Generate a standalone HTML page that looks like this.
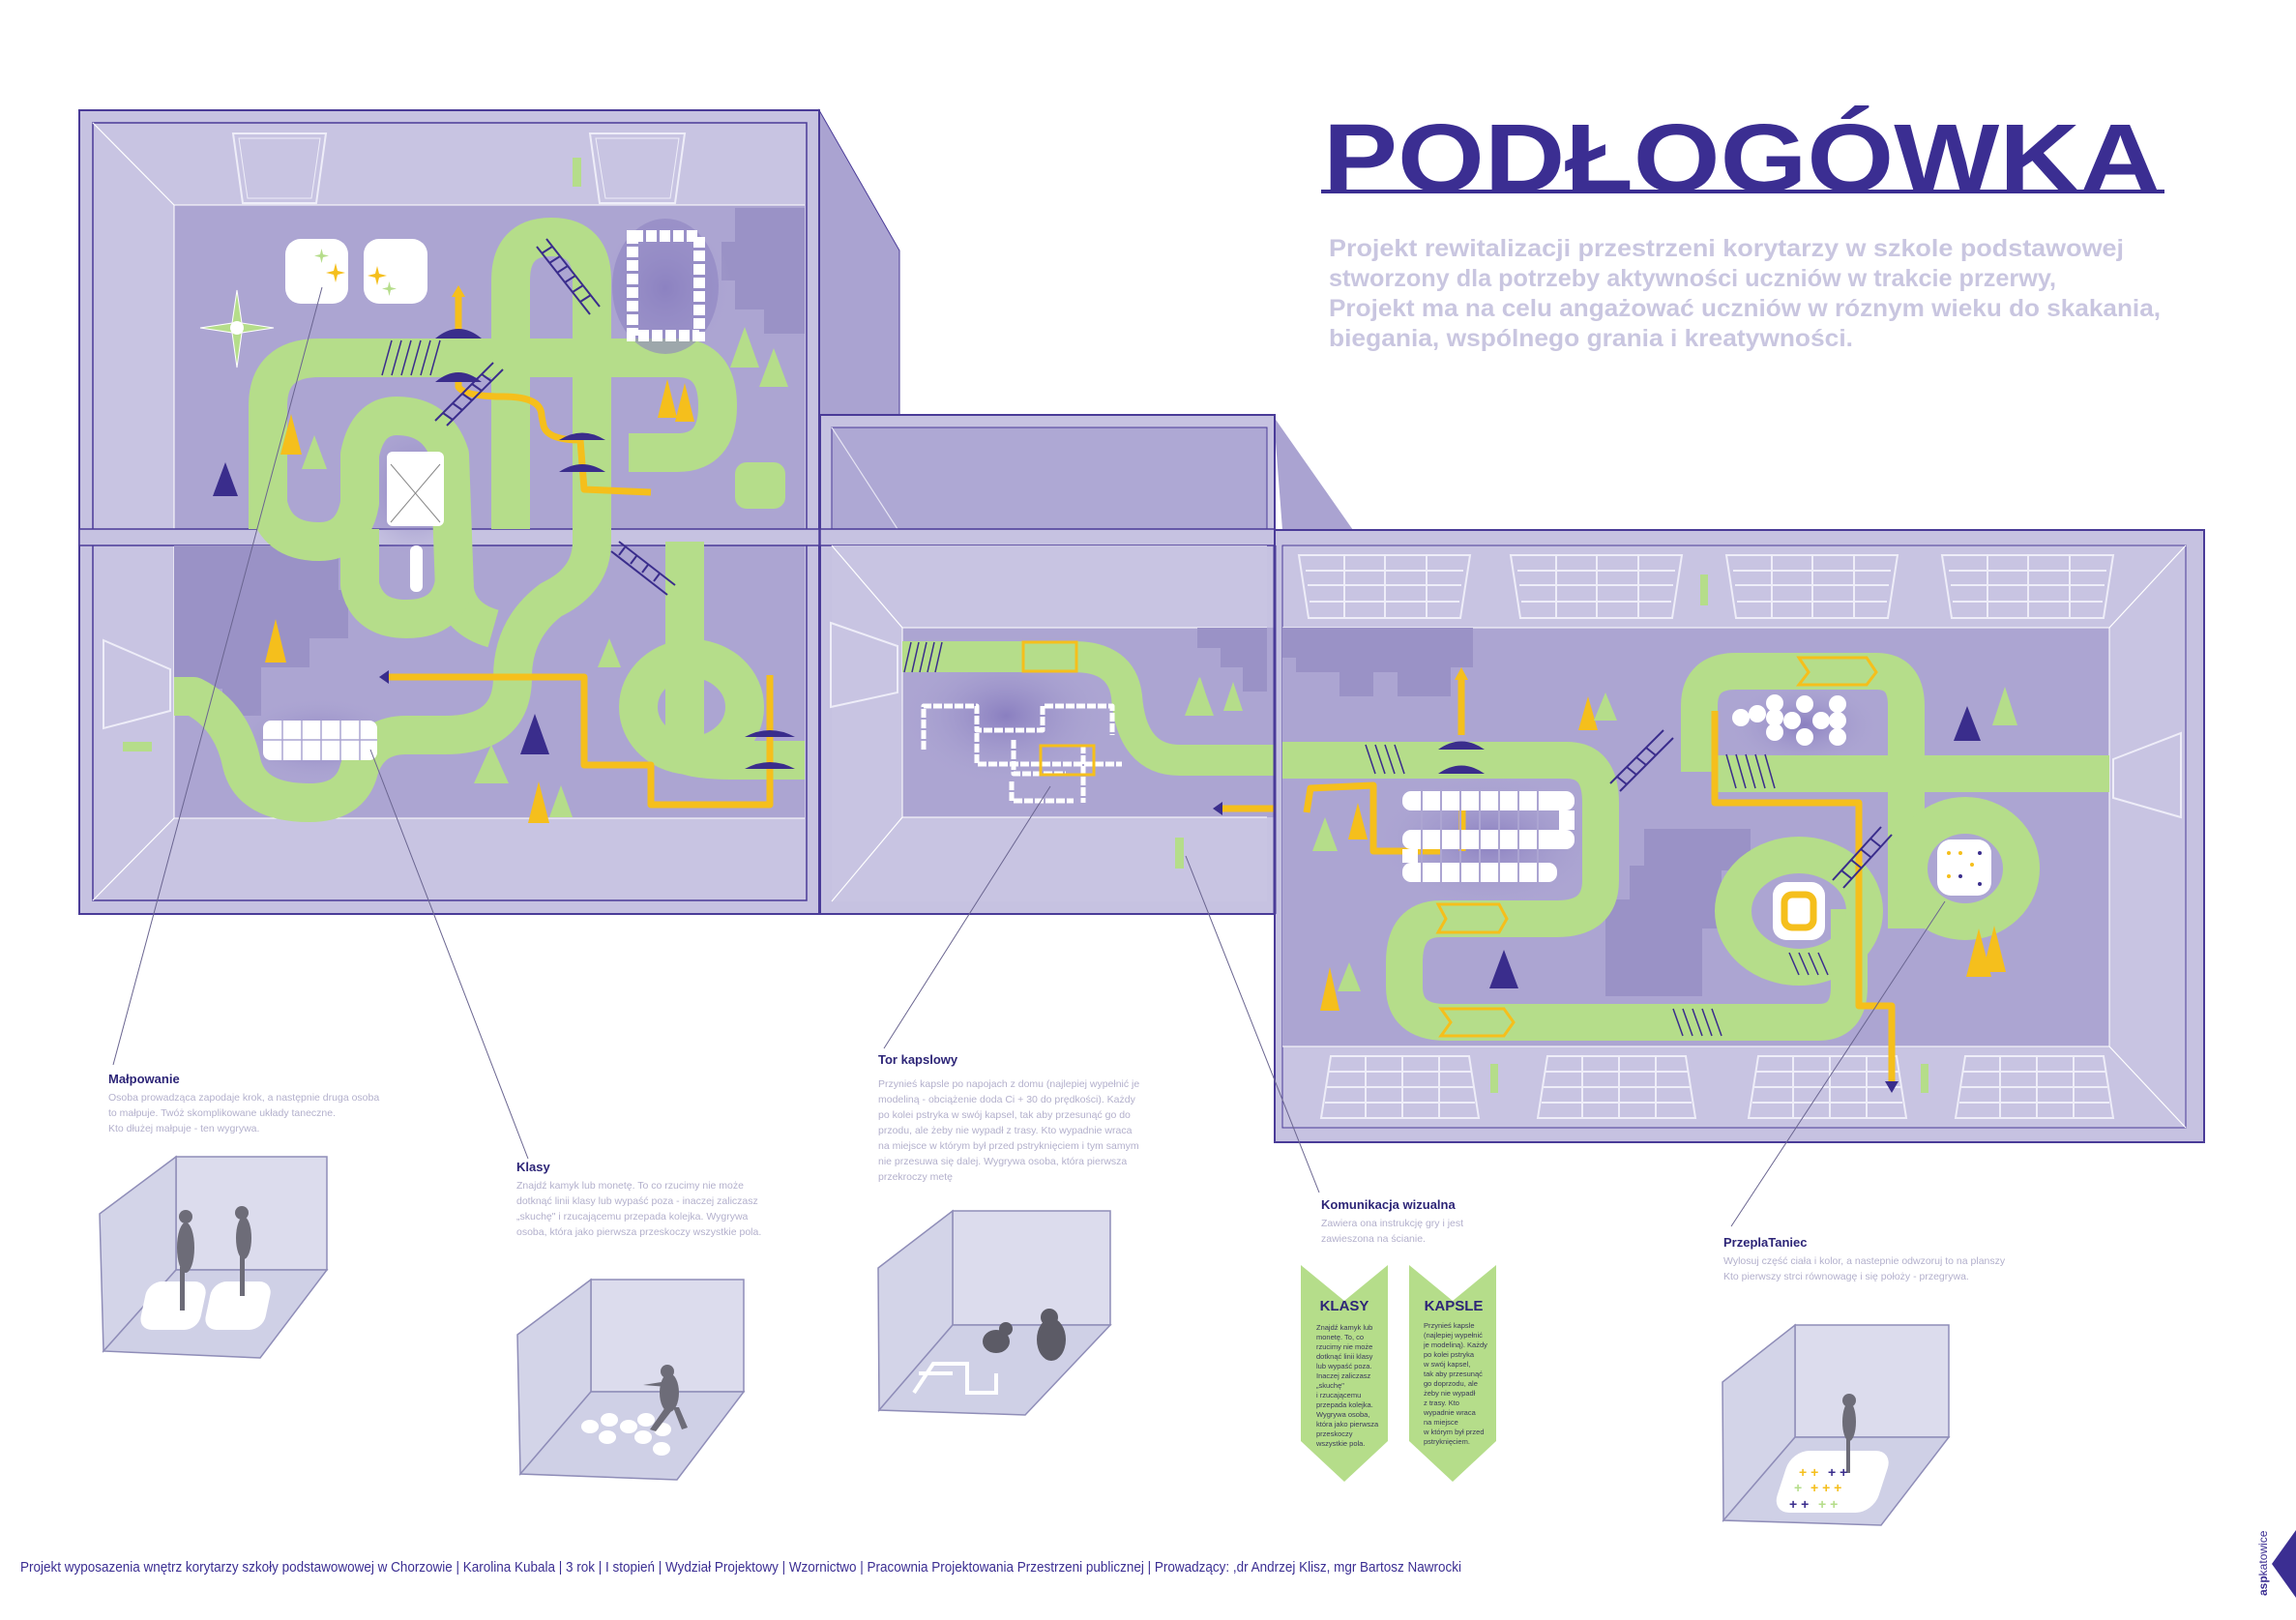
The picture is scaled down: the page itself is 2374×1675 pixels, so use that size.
<!DOCTYPE html>
<html><head><meta charset="utf-8"><style>
html,body{margin:0;padding:0;background:#fff;}
svg{display:block;font-family:"Liberation Sans",sans-serif;}
</style></head><body>
<svg width="2374" height="1675" viewBox="0 0 2374 1675" xmlns="http://www.w3.org/2000/svg">
<defs>
<radialGradient id="glow" cx="50%" cy="50%" r="50%"><stop offset="0" stop-color="#8a7fc0"/><stop offset="1" stop-color="#aca5d2" stop-opacity="0"/></radialGradient>
</defs>

<!-- ============ LEFT BUILDING ============ -->
<polygon points="847,114 930,259 930,430 847,430" fill="#aaa3d1" stroke="#4a3b98" stroke-width="1"/>
<rect x="82" y="114" width="765" height="831" fill="#c6c2e1" stroke="#4a3b98" stroke-width="2"/>
<rect x="96" y="127" width="738" height="804" fill="#c8c4e2" stroke="#4a3b98" stroke-width="1.5"/>
<rect x="180" y="212" width="652" height="335" fill="#aca5d2"/>
<rect x="180" y="564" width="652" height="282" fill="#aca5d2"/>
<line x1="96" y1="127" x2="180" y2="212" stroke="#fff" stroke-width="1.2"/>
<line x1="96" y1="931" x2="180" y2="846" stroke="#fff" stroke-width="1.2"/>
<line x1="180" y1="212" x2="832" y2="212" stroke="#fff" stroke-width="1"/>
<line x1="180" y1="212" x2="180" y2="547" stroke="#fff" stroke-width="1"/>
<line x1="180" y1="564" x2="180" y2="846" stroke="#fff" stroke-width="1"/>
<line x1="180" y1="846" x2="832" y2="846" stroke="#fff" stroke-width="1"/>
<rect x="82" y="547" width="765" height="17" fill="#c6c2e1" stroke="#4a3b98" stroke-width="1.5"/>
<path d="M760,215 L832,215 L832,345 L790,345 L790,320 L760,320 L760,290 L746,290 L746,250 L760,250 Z" fill="#9a92c6"/>
<path d="M180,564 L350,564 L350,610 L360,610 L360,660 L320,660 L320,690 L270,690 L270,740 L230,740 L230,712 L180,712 Z" fill="#9a92c6"/>
<polygon points="241,138 337,138 327,210 251,210" fill="none" stroke="#eeedf8" stroke-width="2"/>
<polygon points="247,143 331,143 322,205 256,205" fill="none" stroke="#eeedf8" stroke-width="1"/>
<polygon points="610,138 708,138 698,210 620,210" fill="none" stroke="#eeedf8" stroke-width="2"/>
<polygon points="616,143 702,143 693,205 626,205" fill="none" stroke="#eeedf8" stroke-width="1"/>
<polygon points="107,662 176,692 176,735 107,753" fill="none" stroke="#eeedf8" stroke-width="2"/>
<rect x="592" y="163" width="9" height="30" fill="#b5dd8a"/>
<rect x="127" y="767" width="30" height="10" fill="#b5dd8a"/>

<ellipse cx="688" cy="298" rx="70" ry="75" fill="url(#glow)"/>
<ellipse cx="430" cy="505" rx="65" ry="75" fill="url(#glow)"/>
<ellipse cx="330" cy="765" rx="90" ry="45" fill="url(#glow)"/>

<g fill="none" stroke="#b5dd8a" stroke-width="40" stroke-linecap="butt" stroke-linejoin="round">
<path d="M277,547 L277,420 Q277,370 330,370 L700,370 Q742,370 742,420 Q742,468 700,468 L650,468"/>
<path d="M528,547 L528,290 Q528,245 570,245 Q612,245 612,290 L612,560 Q612,600 570,620 Q530,650 530,700 Q530,760 460,760 L420,760 Q380,760 370,800 Q360,830 320,830 Q260,830 250,790 Q240,740 200,720 L180,720"/>
<path d="M277,520 Q285,560 330,560 Q365,560 372,520 L372,470 Q380,430 410,430 Q452,430 465,470 L470,610 Q475,640 510,650"/>
<path d="M372,547 L372,605 Q380,640 420,640 Q465,640 470,600"/>
<ellipse cx="715" cy="731" rx="55" ry="50"/>
<path d="M708,560 L708,780 Q720,786 760,786 L832,786"/>
</g>
<g fill="none" stroke="#f5bf1c" stroke-width="7" stroke-linejoin="round">
<path d="M474,303 L474,345"/>
<path d="M474,385 L474,400 Q480,410 520,410 Q560,410 560,430 L562,440 Q566,455 600,455 L604,506 L673,509"/>
<path d="M398,700 L604,700 L604,791 L673,791 L673,832 L796,832 L796,698"/>
</g>
<polygon points="474,295 467,307 481,307" fill="#f5bf1c"/>
<polygon points="392,700 402,693 402,707" fill="#3a2d8c"/>
<g stroke="#3a2d8c" stroke-width="1.5">
<path d="M395,388 L405,352 M405,388 L415,352 M415,388 L425,352 M425,388 L435,352 M435,388 L445,352 M445,388 L455,352"/>
</g>
<path d="M450,350 Q474,330 498,350 Z" fill="#3a2d8c"/>
<path d="M450,395 Q474,375 498,395 Z" fill="#3a2d8c"/>
<path d="M578,455 Q602,440 626,455 Z" fill="#3a2d8c"/>
<path d="M578,488 Q602,472 626,488 Z" fill="#3a2d8c"/>
<path d="M770,762 Q796,748 822,762 Z" fill="#3a2d8c"/>
<path d="M770,795 Q796,781 822,795 Z" fill="#3a2d8c"/>
<g stroke="#3a2d8c" stroke-width="2" fill="none">
<path d="M555,255 L610,325 M565,247 L620,317 M560,262 L571,255 M568,272 L579,265 M576,282 L587,275 M584,292 L595,285 M592,302 L603,295 M600,312 L611,305"/>
<path d="M450,435 L510,375 M462,440 L520,382 M458,427 L468,434 M468,417 L478,424 M478,407 L488,414 M488,397 L498,404 M498,387 L508,394"/>
<path d="M632,570 L690,615 M640,560 L698,605 M640,574 L646,566 M652,583 L658,575 M664,592 L670,584 M676,601 L682,593"/>
</g>
<rect x="295" y="247" width="65" height="67" rx="16" fill="#fff"/>
<rect x="376" y="247" width="66" height="67" rx="16" fill="#fff"/>
<g fill="#f5bf1c"><path d="M345,280 l2,-8 2,8 8,2 -8,2 -2,8 -2,-8 -8,-2z"/><path d="M388,283 l2,-8 2,8 8,2 -8,2 -2,8 -2,-8 -8,-2z"/></g>
<g fill="#b5dd8a"><path d="M331,263 l1.5,-6 1.5,6 6,1.5 -6,1.5 -1.5,6 -1.5,-6 -6,-1.5z"/><path d="M401,297 l1.5,-6 1.5,6 6,1.5 -6,1.5 -1.5,6 -1.5,-6 -6,-1.5z"/></g>
<ellipse cx="688" cy="296" rx="55" ry="70" fill="#8d83c2" opacity="0.6"/>
<rect x="654" y="244" width="69" height="103" fill="none" stroke="#fff" stroke-width="12" stroke-dasharray="11,3"/>
<rect x="400" y="467" width="59" height="77" rx="6" fill="#fff"/>
<path d="M404,480 L455,540 M455,480 L404,540" stroke="#888" stroke-width="1"/>
<rect x="424" y="564" width="13" height="48" rx="6" fill="#fff"/>
<rect x="272" y="745" width="118" height="41" rx="8" fill="#fff"/>
<g stroke="#aca5d2" stroke-width="1.5"><path d="M292,745 V786 M312,745 V786 M332,745 V786 M352,745 V786 M372,745 V786 M272,765 H390"/></g>
<rect x="760" y="478" width="52" height="48" rx="12" fill="#b5dd8a"/>
<path d="M245,300 L250,334 L283,339 L250,344 L245,380 L240,344 L207,339 L240,334 Z" fill="#b5dd8a" stroke="#fff" stroke-width="1"/>
<circle cx="245" cy="339" r="7" fill="#fff"/>
<g fill="#f5bf1c"><polygon points="690,392 680,432 700,432"/><polygon points="708,396 698,436 718,436"/><polygon points="301,428 290,470 312,470"/><polygon points="285,640 274,685 296,685"/><polygon points="557,808 546,851 568,851"/></g>
<g fill="#b5dd8a"><polygon points="770,338 755,380 785,380"/><polygon points="800,360 785,400 815,400"/><polygon points="325,450 312,485 338,485"/><polygon points="630,660 618,690 642,690"/><polygon points="580,812 568,845 592,845"/><polygon points="508,770 490,810 526,810"/></g>
<g fill="#3a2d8c"><polygon points="233,478 220,513 246,513"/><polygon points="553,738 538,780 568,780"/></g>

<!-- ============ MIDDLE BUILDING ============ -->
<polygon points="1317,431 1399,548 1326,548" fill="#aaa3d1"/>
<rect x="848" y="429" width="470" height="516" fill="#c6c2e1" stroke="#4a3b98" stroke-width="2"/>
<rect x="860" y="442" width="450" height="105" fill="#aea8d4" stroke="#4a3b98" stroke-width="1"/>
<line x1="860" y1="442" x2="928" y2="547" stroke="#e6e4f3" stroke-width="1.2"/>
<rect x="848" y="547" width="470" height="17" fill="#c6c2e1" stroke="#4a3b98" stroke-width="1.5"/>
<rect x="860" y="564" width="450" height="368" fill="#c8c4e2"/>
<rect x="933" y="649" width="385" height="196" fill="#aca5d2"/>
<line x1="860" y1="564" x2="933" y2="649" stroke="#fff" stroke-width="1.2"/>
<line x1="860" y1="932" x2="933" y2="845" stroke="#fff" stroke-width="1.2"/>
<line x1="933" y1="649" x2="1310" y2="649" stroke="#fff"/>
<line x1="933" y1="845" x2="1310" y2="845" stroke="#fff"/>
<line x1="933" y1="649" x2="933" y2="845" stroke="#fff"/>
<polygon points="859,644 928,668 928,716 859,731" fill="none" stroke="#eeedf8" stroke-width="2"/>
<rect x="1215" y="866" width="9" height="32" fill="#b5dd8a"/>
<path d="M1238,649 L1310,649 L1310,715 L1285,715 L1285,690 L1262,690 L1262,670 L1238,670 Z" fill="#9a92c6"/>
<ellipse cx="1040" cy="740" rx="110" ry="75" fill="url(#glow)"/>
<g fill="none" stroke="#b5dd8a" stroke-width="32"><path d="M933,679 L1110,679 Q1160,679 1165,720 Q1170,786 1220,786 L1326,786"/></g>
<g stroke="#3a2d8c" stroke-width="1.5"><path d="M935,695 L942,664 M943,695 L950,664 M951,695 L958,664 M959,695 L966,664 M967,695 L974,664"/></g>
<g fill="none" stroke="#fff" stroke-width="5" stroke-dasharray="9,2" stroke-linejoin="round"><path d="M955,775 L955,730 L1010,730 L1010,755 L1078,755 L1078,730 L1150,730 L1150,760 M1010,758 L1010,790 L1160,790 M1048,765 L1048,800 L1102,800 M1046,808 L1046,828 L1110,828 M1120,770 L1120,830"/></g>
<rect x="1058" y="664" width="55" height="30" fill="none" stroke="#f5bf1c" stroke-width="3"/>
<rect x="1076" y="771" width="55" height="30" fill="none" stroke="#f5bf1c" stroke-width="3"/>
<g fill="#b5dd8a"><polygon points="1240,700 1225,740 1255,740"/><polygon points="1275,705 1265,735 1285,735"/></g>
<g fill="none" stroke="#f5bf1c" stroke-width="7"><path d="M1262,836 L1318,836"/></g>
<polygon points="1254,836 1264,829 1264,843" fill="#3a2d8c"/>

<!-- ============ RIGHT BUILDING ============ -->
<rect x="1318" y="548" width="961" height="633" fill="#c6c2e1" stroke="#4a3b98" stroke-width="2"/>
<rect x="1326" y="564" width="934" height="602" fill="#c8c4e2" stroke="#4a3b98" stroke-width="1"/>
<rect x="1326" y="649" width="855" height="433" fill="#aca5d2"/>
<line x1="2260" y1="564" x2="2181" y2="649" stroke="#fff" stroke-width="1.2"/>
<line x1="2260" y1="1166" x2="2181" y2="1082" stroke="#fff" stroke-width="1.2"/>
<line x1="1326" y1="649" x2="2181" y2="649" stroke="#fff"/>
<line x1="1326" y1="1082" x2="2181" y2="1082" stroke="#fff"/>
<line x1="2181" y1="649" x2="2181" y2="1082" stroke="#fff"/>
<line x1="1318" y1="564" x2="1318" y2="945" stroke="#4a3b98" stroke-width="3"/>
<polygon points="2185,785 2255,758 2255,845 2185,825" fill="none" stroke="#eeedf8" stroke-width="2"/>
<g fill="none" stroke="#eeedf8" stroke-width="2">
<g id="wt"><polygon points="1343,574 1520,574 1510,639 1353,639"/><path d="M1350,590 H1513 M1352,605 H1511 M1354,622 H1509 M1390,574 V639 M1432,574 V639 M1475,574 V639"/></g>
<use href="#wt" x="219"/><use href="#wt" x="442"/><use href="#wt" x="665"/>
<g id="wb"><polygon points="1376,1092 1519,1092 1529,1156 1366,1156"/><path d="M1374,1108 H1521 M1372,1124 H1523 M1370,1140 H1525 M1412,1092 V1156 M1450,1092 V1156 M1488,1092 V1156"/></g>
<use href="#wb" x="224"/><use href="#wb" x="442"/><use href="#wb" x="656"/>
</g>
<rect x="1758" y="594" width="8" height="32" fill="#b5dd8a"/>
<rect x="1541" y="1100" width="8" height="30" fill="#b5dd8a"/>
<rect x="1986" y="1100" width="8" height="30" fill="#b5dd8a"/>
<path d="M1326,649 L1523,649 L1523,690 L1500,690 L1500,720 L1445,720 L1445,695 L1420,695 L1420,720 L1385,720 L1385,695 L1340,695 L1340,680 L1326,680 Z" fill="#9a92c6"/>
<path d="M1700,857 L1810,857 L1810,900 L1780,900 L1780,960 L1760,960 L1760,1030 L1715,1030 L1660,1030 L1660,930 L1685,930 L1685,895 L1700,895 Z" fill="#9a92c6"/>
<ellipse cx="1540" cy="870" rx="120" ry="70" fill="url(#glow)"/>
<ellipse cx="1865" cy="750" rx="80" ry="45" fill="url(#glow)"/>
<g fill="none" stroke="#b5dd8a" stroke-width="38" stroke-linejoin="round">
<path d="M1326,786 L1620,786 Q1655,786 1655,830 L1655,910 Q1655,950 1610,950 L1490,950 Q1452,950 1452,995 L1452,1020 Q1452,1057 1495,1057 L1880,1057 Q1912,1057 1912,1020 L1912,940"/>
<path d="M1757,798 L1757,730 Q1757,694 1795,694 L1940,694 Q1971,694 1971,730 L1971,960"/>
<path d="M1775,800 L2181,800"/>
<ellipse cx="1860" cy="942" rx="68" ry="58"/>
<ellipse cx="2032" cy="898" rx="58" ry="55"/>
</g>
<g fill="none" stroke="#f5bf1c" stroke-width="7" stroke-linejoin="round">
<path d="M1511,700 L1511,760"/>
<path d="M1351,840 L1355,815 L1420,812 L1420,880 L1490,880"/>
<path d="M1512,820 L1512,880"/>
<path d="M1773,735 L1773,830 L1922,830 L1922,1040 L1956,1040 L1956,1120"/>
</g>
<polygon points="1511,690 1504,703 1518,703" fill="#f5bf1c"/>
<polygon points="1956,1130 1949,1118 1963,1118" fill="#3a2d8c"/>
<path d="M1487,775 Q1511,758 1535,775 Z" fill="#3a2d8c"/>
<path d="M1487,800 Q1511,783 1535,800 Z" fill="#3a2d8c"/>
<rect x="1450" y="818" width="178" height="20" rx="9" fill="#fff"/>
<rect x="1450" y="858" width="178" height="20" rx="9" fill="#fff"/>
<rect x="1450" y="892" width="160" height="20" rx="9" fill="#fff"/>
<rect x="1612" y="838" width="16" height="20" fill="#fff"/>
<rect x="1450" y="878" width="16" height="14" fill="#fff"/>
<g stroke="#aca5d2" stroke-width="2"><path d="M1470,818 V912 M1490,818 V912 M1510,818 V912 M1530,818 V912 M1550,818 V912 M1570,818 V912 M1590,818 V912"/></g>
<g fill="#fff"><circle cx="1800" cy="742" r="9"/><circle cx="1817" cy="738" r="9"/><circle cx="1835" cy="742" r="9"/><circle cx="1853" cy="745" r="9"/><circle cx="1866" cy="728" r="9"/><circle cx="1866" cy="762" r="9"/><circle cx="1883" cy="745" r="9"/><circle cx="1900" cy="745" r="9"/><circle cx="1900" cy="728" r="9"/><circle cx="1900" cy="762" r="9"/><circle cx="1835" cy="727" r="9"/><circle cx="1835" cy="757" r="9"/></g>
<rect x="1833" y="912" width="54" height="60" rx="14" fill="#fff"/>
<rect x="1845" y="925" width="30" height="34" rx="8" fill="none" stroke="#f5bf1c" stroke-width="7"/>
<rect x="2003" y="868" width="56" height="58" rx="14" fill="#fff"/>
<g fill="#f5bf1c"><circle cx="2015" cy="882" r="2"/><circle cx="2027" cy="882" r="2"/><circle cx="2039" cy="894" r="2"/><circle cx="2015" cy="906" r="2"/></g>
<g fill="#3a2d8c"><circle cx="2047" cy="882" r="2"/><circle cx="2027" cy="906" r="2"/><circle cx="2047" cy="914" r="2"/></g>
<g fill="none" stroke="#f5bf1c" stroke-width="3">
<polygon points="1860,680 1930,680 1940,695 1930,708 1860,708 1870,695"/>
<polygon points="1490,1043 1555,1043 1565,1057 1555,1071 1490,1071 1500,1057"/>
<polygon points="1487,935 1550,935 1558,950 1550,964 1487,964 1495,950"/>
</g>
<g stroke="#3a2d8c" stroke-width="1.5"><path d="M1785,780 L1795,815 M1795,780 L1805,815 M1805,780 L1815,815 M1815,780 L1825,815 M1825,780 L1835,815 M1730,1043 L1740,1071 M1740,1043 L1750,1071 M1750,1043 L1760,1071 M1760,1043 L1770,1071 M1770,1043 L1780,1071 M1850,985 L1860,1008 M1860,985 L1870,1008 M1870,985 L1880,1008 M1880,985 L1890,1008 M1412,770 L1422,800 M1422,770 L1432,800 M1432,770 L1442,800 M1442,770 L1452,800"/></g>
<g stroke="#3a2d8c" stroke-width="2" fill="none">
<path d="M1665,810 L1720,755 M1675,818 L1730,763 M1672,803 L1682,811 M1682,793 L1692,801 M1692,783 L1702,791 M1702,773 L1712,781"/>
<path d="M1895,910 L1945,855 M1906,918 L1956,863 M1904,900 L1914,908 M1914,889 L1924,897 M1924,878 L1934,886 M1934,867 L1944,875"/>
</g>
<g fill="#f5bf1c"><polygon points="1642,720 1632,755 1652,755"/><polygon points="1404,830 1394,868 1414,868"/><polygon points="1375,1000 1365,1045 1385,1045"/><polygon points="2046,960 2033,1010 2059,1010"/><polygon points="2062,957 2050,1005 2074,1005"/></g>
<g fill="#b5dd8a"><polygon points="1660,716 1648,745 1672,745"/><polygon points="1370,845 1357,880 1383,880"/><polygon points="1395,995 1383,1025 1407,1025"/><polygon points="2073,710 2060,750 2086,750"/><polygon points="1241,700 1228,740 1254,740"/></g>
<g fill="#3a2d8c"><polygon points="2034,730 2020,766 2048,766"/><polygon points="1555,982 1540,1022 1570,1022"/></g>

<!-- ============ TITLE ============ -->
<text x="1368" y="198" font-size="100" font-weight="bold" fill="#3b2e92" textLength="866" lengthAdjust="spacingAndGlyphs">PODŁOGÓWKA</text>
<rect x="1366" y="196" width="872" height="4" fill="#3b2e92"/>
<g font-size="25" font-weight="bold" fill="#c9c6e0">
<text x="1374" y="265" textLength="822" lengthAdjust="spacingAndGlyphs">Projekt rewitalizacji przestrzeni korytarzy w szkole podstawowej</text>
<text x="1374" y="296" textLength="752" lengthAdjust="spacingAndGlyphs">stworzony dla potrzeby aktywności uczniów w trakcie przerwy,</text>
<text x="1374" y="327" textLength="860" lengthAdjust="spacingAndGlyphs">Projekt ma na celu angażować uczniów w róznym wieku do skakania,</text>
<text x="1374" y="358" textLength="542" lengthAdjust="spacingAndGlyphs">biegania, wspólnego grania i kreatywności.</text>
</g>

<g stroke="#6a6590" stroke-width="1"><line x1="333" y1="297" x2="117" y2="1101"/><line x1="383" y1="775" x2="546" y2="1198"/><line x1="1086" y1="813" x2="914" y2="1084"/><line x1="1226" y1="885" x2="1364" y2="1233"/><line x1="2011" y1="932" x2="1790" y2="1268"/></g>

<g font-size="13" font-weight="bold" fill="#2d2577">
<text x="112" y="1120">Małpowanie</text>
<text x="534" y="1211">Klasy</text>
<text x="908" y="1100">Tor kapslowy</text>
<text x="1366" y="1250">Komunikacja wizualna</text>
<text x="1782" y="1289">PrzeplaTaniec</text>
</g>
<g font-size="10.5" fill="#b3b0cc">
<text x="112" y="1138">Osoba prowadząca zapodaje krok, a następnie druga osoba</text>
<text x="112" y="1154">to małpuje. Twóż skomplikowane układy taneczne.</text>
<text x="112" y="1170">Kto dłużej małpuje - ten wygrywa.</text>
<text x="534" y="1229">Znajdź kamyk lub monetę. To co rzucimy nie może</text>
<text x="534" y="1245">dotknąć linii klasy lub wypaść poza - inaczej zaliczasz</text>
<text x="534" y="1261">„skuchę" i rzucającemu przepada kolejka. Wygrywa</text>
<text x="534" y="1277">osoba, która jako pierwsza przeskoczy wszystkie pola.</text>
<text x="908" y="1124">Przynieś kapsle po napojach z domu (najlepiej wypełnić je</text>
<text x="908" y="1140">modeliną - obciążenie doda Ci + 30 do prędkości). Każdy</text>
<text x="908" y="1156">po kolei pstryka w swój kapsel, tak aby przesunąć go do</text>
<text x="908" y="1172">przodu, ale żeby nie wypadł z trasy. Kto wypadnie wraca</text>
<text x="908" y="1188">na miejsce w którym był przed pstryknięciem i tym samym</text>
<text x="908" y="1204">nie przesuwa się dalej. Wygrywa osoba, która pierwsza</text>
<text x="908" y="1220">przekroczy metę</text>
<text x="1366" y="1268">Zawiera ona instrukcję gry i jest</text>
<text x="1366" y="1284">zawieszona na ścianie.</text>
<text x="1782" y="1307">Wylosuj część ciała i kolor, a nastepnie odwzoruj to na planszy</text>
<text x="1782" y="1323">Kto pierwszy strci równowagę i się położy - przegrywa.</text>
</g>

<polygon points="1345,1308 1390,1345 1435,1308 1435,1490 1390,1532 1345,1490" fill="#b5dd8a"/>
<polygon points="1457,1308 1502,1345 1547,1308 1547,1490 1502,1532 1457,1490" fill="#b5dd8a"/>
<text x="1390" y="1355" font-size="15" font-weight="bold" fill="#2d2577" text-anchor="middle">KLASY</text>
<text x="1503" y="1355" font-size="15" font-weight="bold" fill="#2d2577" text-anchor="middle">KAPSLE</text>
<g font-size="7.5" fill="#3a3a5a">
<text x="1361" y="1375">Znajdź kamyk lub</text><text x="1361" y="1385">monetę. To, co</text><text x="1361" y="1395">rzucimy nie może</text><text x="1361" y="1405">dotknąć linii klasy</text><text x="1361" y="1415">lub wypaść poza.</text><text x="1361" y="1425">Inaczej zaliczasz</text><text x="1361" y="1435">„skuchę"</text><text x="1361" y="1445">i rzucającemu</text><text x="1361" y="1455">przepada kolejka.</text><text x="1361" y="1465">Wygrywa osoba,</text><text x="1361" y="1475">która jako pierwsza</text><text x="1361" y="1485">przeskoczy</text><text x="1361" y="1495">wszystkie pola.</text>
<text x="1472" y="1373">Przynieś kapsle</text><text x="1472" y="1383">(najlepiej wypełnić</text><text x="1472" y="1393">je modeliną). Każdy</text><text x="1472" y="1403">po kolei pstryka</text><text x="1472" y="1413">w swój kapsel,</text><text x="1472" y="1423">tak aby przesunąć</text><text x="1472" y="1433">go doprzodu, ale</text><text x="1472" y="1443">żeby nie wypadł</text><text x="1472" y="1453">z trasy. Kto</text><text x="1472" y="1463">wypadnie wraca</text><text x="1472" y="1473">na miejsce</text><text x="1472" y="1483">w którym był przed</text><text x="1472" y="1493">pstryknięciem.</text>
</g>

<g stroke="#8f8db8" stroke-width="1.5">
<rect x="182" y="1196" width="156" height="117" fill="#dcdced"/>
<polygon points="103,1255 182,1196 182,1313 107,1397" fill="#d3d4e8"/>
<polygon points="182,1313 338,1313 269,1404 107,1397" fill="#cfd0e6"/>
<rect x="611" y="1323" width="158" height="116" fill="#dcdced"/>
<polygon points="535,1380 611,1323 611,1439 538,1524" fill="#d3d4e8"/>
<polygon points="611,1439 769,1439 700,1530 538,1524" fill="#cfd0e6"/>
<rect x="985" y="1252" width="163" height="118" fill="#dcdced"/>
<polygon points="908,1311 985,1252 985,1370 909,1458" fill="#d3d4e8"/>
<polygon points="985,1370 1148,1370 1060,1463 909,1458" fill="#cfd0e6"/>
<rect x="1856" y="1370" width="159" height="116" fill="#dcdced"/>
<polygon points="1781,1429 1856,1370 1856,1486 1782,1572" fill="#d3d4e8"/>
<polygon points="1856,1486 2015,1486 1945,1577 1782,1572" fill="#cfd0e6"/>
</g>
<rect x="155" y="1325" width="62" height="50" rx="14" fill="#fff" transform="skewX(-12) translate(280,0)"/>
<rect x="222" y="1325" width="62" height="50" rx="14" fill="#fff" transform="skewX(-12) translate(280,0)"/>
<g fill="#6d6c78"><ellipse cx="192" cy="1290" rx="9" ry="26"/><circle cx="192" cy="1258" r="7"/><rect x="186" y="1310" width="5" height="45"/><ellipse cx="252" cy="1280" rx="8" ry="22"/><circle cx="250" cy="1254" r="7"/><rect x="248" y="1298" width="5" height="42"/></g>
<g fill="#fff"><ellipse cx="610" cy="1475" rx="9" ry="7"/><ellipse cx="630" cy="1468" rx="9" ry="7"/><ellipse cx="628" cy="1486" rx="9" ry="7"/><ellipse cx="650" cy="1475" rx="9" ry="7"/><ellipse cx="668" cy="1468" rx="9" ry="7"/><ellipse cx="665" cy="1486" rx="9" ry="7"/><ellipse cx="685" cy="1478" rx="9" ry="7"/><ellipse cx="684" cy="1498" rx="9" ry="7"/></g>
<g fill="#6d6c78"><ellipse cx="692" cy="1440" rx="10" ry="20"/><circle cx="690" cy="1418" r="7"/><path d="M665,1432 L690,1428 L690,1434 Z M688,1455 L672,1478 L678,1480 L695,1458 Z M696,1455 L705,1478 L711,1476 L702,1455Z"/></g>
<path d="M945,1440 L965,1410 L1000,1410 L1000,1440 L1030,1440 L1030,1420 M950,1420 L985,1420" fill="none" stroke="#fff" stroke-width="4"/>
<g fill="#5c5b66"><ellipse cx="1030" cy="1387" rx="14" ry="12"/><circle cx="1040" cy="1374" r="7"/><ellipse cx="1087" cy="1385" rx="15" ry="22"/><circle cx="1085" cy="1362" r="9"/></g>
<rect x="1850" y="1500" width="105" height="64" rx="18" fill="#fff" transform="skewX(-18) translate(490,0)"/>
<g fill="#6d6c78"><ellipse cx="1912" cy="1470" rx="7" ry="20"/><circle cx="1912" cy="1448" r="7"/><rect x="1909" y="1488" width="4" height="35"/></g>
<g font-size="14" font-weight="bold">
<text x="1860" y="1527" fill="#f5bf1c">+ + </text><text x="1890" y="1527" fill="#3a2d8c">+ +</text>
<text x="1855" y="1543" fill="#b5dd8a">+ </text><text x="1872" y="1543" fill="#f5bf1c">+ + +</text>
<text x="1850" y="1560" fill="#3a2d8c">+ + </text><text x="1880" y="1560" fill="#b5dd8a">+ +</text>
</g>

<text x="21" y="1625" font-size="15" fill="#3b2e92" textLength="1490" lengthAdjust="spacingAndGlyphs">Projekt wyposazenia wnętrz korytarzy szkoły podstawowowej w Chorzowie | Karolina Kubala | 3 rok | I stopień | Wydział Projektowy | Wzornictwo | Pracownia Projektowania Przestrzeni publicznej | Prowadzący: ,dr Andrzej Klisz, mgr Bartosz Nawrocki</text>
<polygon points="2374,1582 2374,1652 2349,1617" fill="#3b2e92"/>
<text transform="translate(2344,1650) rotate(-90)" font-size="12" font-weight="bold" fill="#3b2e92">asp<tspan font-weight="normal">katowice</tspan></text>
</svg>
</body></html>
